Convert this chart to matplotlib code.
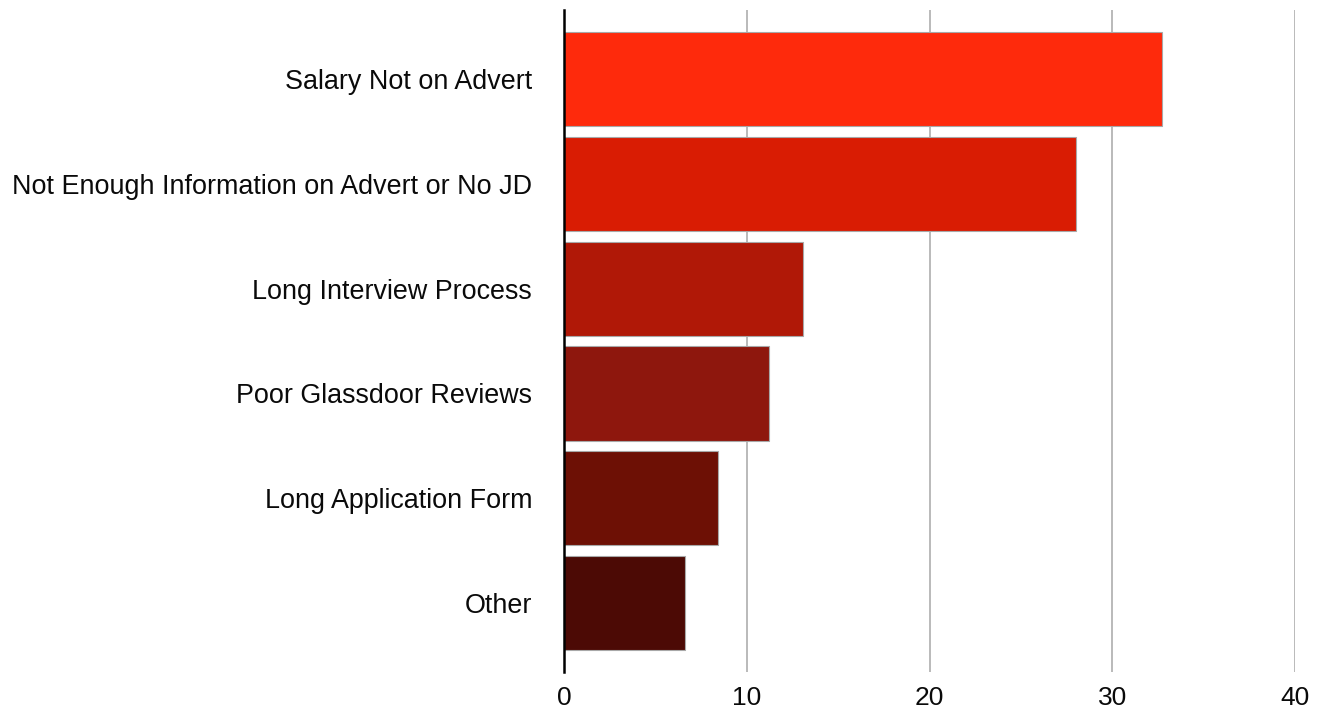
import matplotlib
matplotlib.use("Agg")
import matplotlib.pyplot as plt

# reasons candidates gave for not applying (percent of responses)
reasons = [
    "Salary Not on Advert",
    "Not Enough Information on Advert or No JD",
    "Long Interview Process",
    "Poor Glassdoor Reviews",
    "Long Application Form",
    "Other",
]
percent = [32.7, 28.0, 13.1, 11.2, 8.4, 6.6]
bar_colours = ["#fe2a0c", "#d91c03", "#b01807", "#8e170d", "#6d1005", "#4c0a05"]
x_ticks = [0, 10, 20, 30, 40]

plt.rcParams["font.family"] = ["Liberation Sans", "DejaVu Sans"]

fig = plt.figure(figsize=(13.18, 7.15), dpi=100)
ax = fig.add_axes([0.428, 0.060, 0.5545, 0.926])

pos = list(range(len(reasons)))
ax.barh(pos, percent, height=0.9, color=bar_colours,
        edgecolor="#a8a8a8", linewidth=0.8, zorder=2)

ax.set_xlim(0, 40)
ax.set_ylim(len(reasons) - 1 + 0.66, -0.66)
ax.set_xticks(x_ticks)
ax.set_yticks(pos)
ax.set_yticklabels(reasons)

ax.tick_params(axis="y", length=0, pad=23, labelsize=19.4, labelcolor="#0a0a0a")
ax.tick_params(axis="x", length=0, pad=10, labelsize=19, labelcolor="#0a0a0a")

# vertical grid only, behind the bars
ax.grid(axis="x", color="#b4b4b4", linewidth=1.3, zorder=0)
ax.set_axisbelow(True)

for side in ["top", "right", "bottom"]:
    ax.spines[side].set_visible(False)
ax.spines["left"].set_color("black")
ax.spines["left"].set_linewidth(1.8)
ax.spines["left"].set_zorder(3)

fig.savefig("out.png", dpi=100)
